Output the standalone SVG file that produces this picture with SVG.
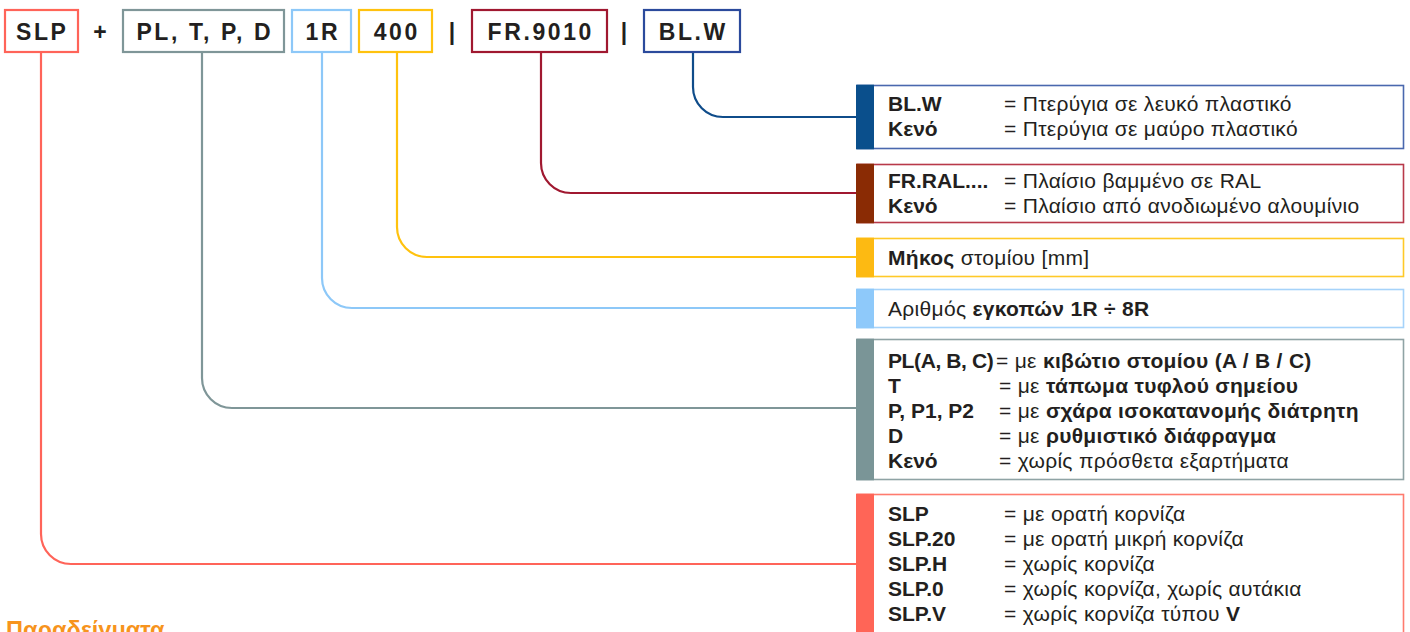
<svg xmlns="http://www.w3.org/2000/svg" width="1410" height="632" viewBox="0 0 1410 632">
<style>
.code{font-family:"Liberation Sans",Arial,sans-serif;font-size:23px;font-weight:bold;letter-spacing:2.6px;fill:#231F20;text-anchor:middle}
.sep{font-family:"Liberation Sans",Arial,sans-serif;font-size:23px;font-weight:bold;fill:#231F20;text-anchor:middle}
.t{font-family:"Liberation Sans",Arial,sans-serif;font-size:21px;fill:#231F20}
.d{letter-spacing:0.3px}
.b{font-weight:bold}
.conn{fill:none;stroke-width:2.2}
.box{fill:#fff;stroke-width:1.6}
.tb{fill:#fff;stroke-width:2.2}
</style>
<rect width="1410" height="632" fill="#fff"/>

<g id="connectors">
<path class="conn" stroke="#FF6459" d="M41 52V534A30 30 0 0 0 71 564H857"/>
<path class="conn" stroke="#7F9698" d="M202 52V378A30 30 0 0 0 232 408H857"/>
<path class="conn" stroke="#8DC8F8" d="M322 52V278A30 30 0 0 0 352 308H857"/>
<path class="conn" stroke="#FFC20E" d="M397 52V227A30 30 0 0 0 427 257H857"/>
<path class="conn" stroke="#A01830" d="M541 52V163A30 30 0 0 0 571 193H857"/>
<path class="conn" stroke="#0F4C8A" d="M693 52V87A30 30 0 0 0 723 117H857"/>
</g>

<g id="code-slp">
<rect class="tb" x="5" y="10" width="73" height="42" stroke="#FF6459"/>
<text class="code" x="42.3" y="39.5">SLP</text>
</g>
<text class="sep" x="100" y="39.5">+</text>
<g id="code-pl">
<rect class="tb" x="123" y="10" width="161" height="42" stroke="#7F9698"/>
<text class="code" x="204.8" y="39.5">PL, T, P, D</text>
</g>
<g id="code-1r">
<rect class="tb" x="292" y="10" width="59" height="42" stroke="#8DC8F8"/>
<text class="code" x="322.8" y="39.5">1R</text>
</g>
<g id="code-400">
<rect class="tb" x="359" y="10" width="73" height="42" stroke="#FFC20E"/>
<text class="code" x="396.8" y="39.5">400</text>
</g>
<text class="sep" x="452" y="39.5">|</text>
<g id="code-fr">
<rect class="tb" x="472" y="10" width="135" height="42" stroke="#A01830"/>
<text class="code" x="540.8" y="39.5">FR.9010</text>
</g>
<text class="sep" x="624" y="39.5">|</text>
<g id="code-blw">
<rect class="tb" x="644" y="10" width="96" height="42" stroke="#2B4A9C"/>
<text class="code" x="693.3" y="39.5">BL.W</text>
</g>

<g id="box-blw">
<rect class="box" x="857.5" y="85.5" width="546" height="63" stroke="#4A68AE"/>
<rect x="856" y="84.7" width="18" height="64.6" fill="#0A4F8C"/>
<text class="t b" x="888" y="111">BL.W</text>
<text class="t d" x="1004" y="111">= Πτερύγια σε λευκό πλαστικό</text>
<text class="t b" x="888" y="136">Κενό</text>
<text class="t d" x="1004" y="136">= Πτερύγια σε μαύρο πλαστικό</text>
</g>

<g id="box-fr">
<rect class="box" x="857.5" y="164.5" width="546" height="58" stroke="#B8394A"/>
<rect x="856" y="163.7" width="18" height="59.6" fill="#8A2B04"/>
<text class="t b" x="888" y="188">FR.RAL....</text>
<text class="t d" x="1004" y="188">= Πλαίσιο βαμμένο σε RAL</text>
<text class="t b" x="888" y="213">Κενό</text>
<text class="t d" x="1004" y="213">= Πλαίσιο από  ανοδιωμένο αλουμίνιο</text>
</g>

<g id="box-length">
<rect class="box" x="857.5" y="238.5" width="546" height="38" stroke="#FFC928"/>
<rect x="856" y="237.7" width="18" height="39.6" fill="#FDBA12"/>
<text class="t d" x="888" y="265"><tspan class="b">Μήκος</tspan> στομίου [mm]</text>
</g>

<g id="box-slots">
<rect class="box" x="857.5" y="289.5" width="546" height="38" stroke="#A6D3FA"/>
<rect x="856" y="288.7" width="18" height="39.6" fill="#8EC9FA"/>
<text class="t d" x="888" y="316">Αριθμός <tspan class="b">εγκοπών 1R ÷ 8R</tspan></text>
</g>

<g id="box-accessories">
<rect class="box" x="857.5" y="339.5" width="546" height="140" stroke="#8FA3A5"/>
<rect x="856" y="338.7" width="18" height="141.6" fill="#7A9597"/>
<text class="t b" x="888" y="368" letter-spacing="-0.4">PL(A, B, C)</text>
<text class="t d" x="996" y="368">= με <tspan class="b">κιβώτιο στομίου (A / B / C)</tspan></text>
<text class="t b" x="888" y="393">T</text>
<text class="t d" x="999" y="393">= με <tspan class="b">τάπωμα τυφλού σημείου</tspan></text>
<text class="t b" x="888" y="418">P, P1, P2</text>
<text class="t d" x="999" y="418">= με <tspan class="b">σχάρα ισοκατανομής διάτρητη</tspan></text>
<text class="t b" x="888" y="443">D</text>
<text class="t d" x="999" y="443">= με <tspan class="b">ρυθμιστικό διάφραγμα</tspan></text>
<text class="t b" x="888" y="468">Κενό</text>
<text class="t d" x="999" y="468">= χωρίς πρόσθετα εξαρτήματα</text>
</g>

<g id="box-slp">
<rect class="box" x="857.5" y="494.5" width="546" height="145" stroke="#FF7B6E"/>
<rect x="856" y="493.7" width="18" height="146" fill="#FF6557"/>
<text class="t b" x="888" y="521">SLP</text>
<text class="t d" x="1004" y="521">= με ορατή κορνίζα</text>
<text class="t b" x="888" y="546">SLP.20</text>
<text class="t d" x="1004" y="546">= με ορατή μικρή κορνίζα</text>
<text class="t b" x="888" y="571">SLP.H</text>
<text class="t d" x="1004" y="571">= χωρίς κορνίζα</text>
<text class="t b" x="888" y="596">SLP.0</text>
<text class="t d" x="1004" y="596">= χωρίς κορνίζα, χωρίς αυτάκια</text>
<text class="t b" x="888" y="621">SLP.V</text>
<text class="t d" x="1004" y="621">= χωρίς κορνίζα τύπου <tspan class="b">V</tspan></text>
</g>

<text x="6" y="638" font-family="'Liberation Sans',Arial,sans-serif" font-size="23.5" font-weight="bold" fill="#F7941D">Παραδείγματα</text>
</svg>
